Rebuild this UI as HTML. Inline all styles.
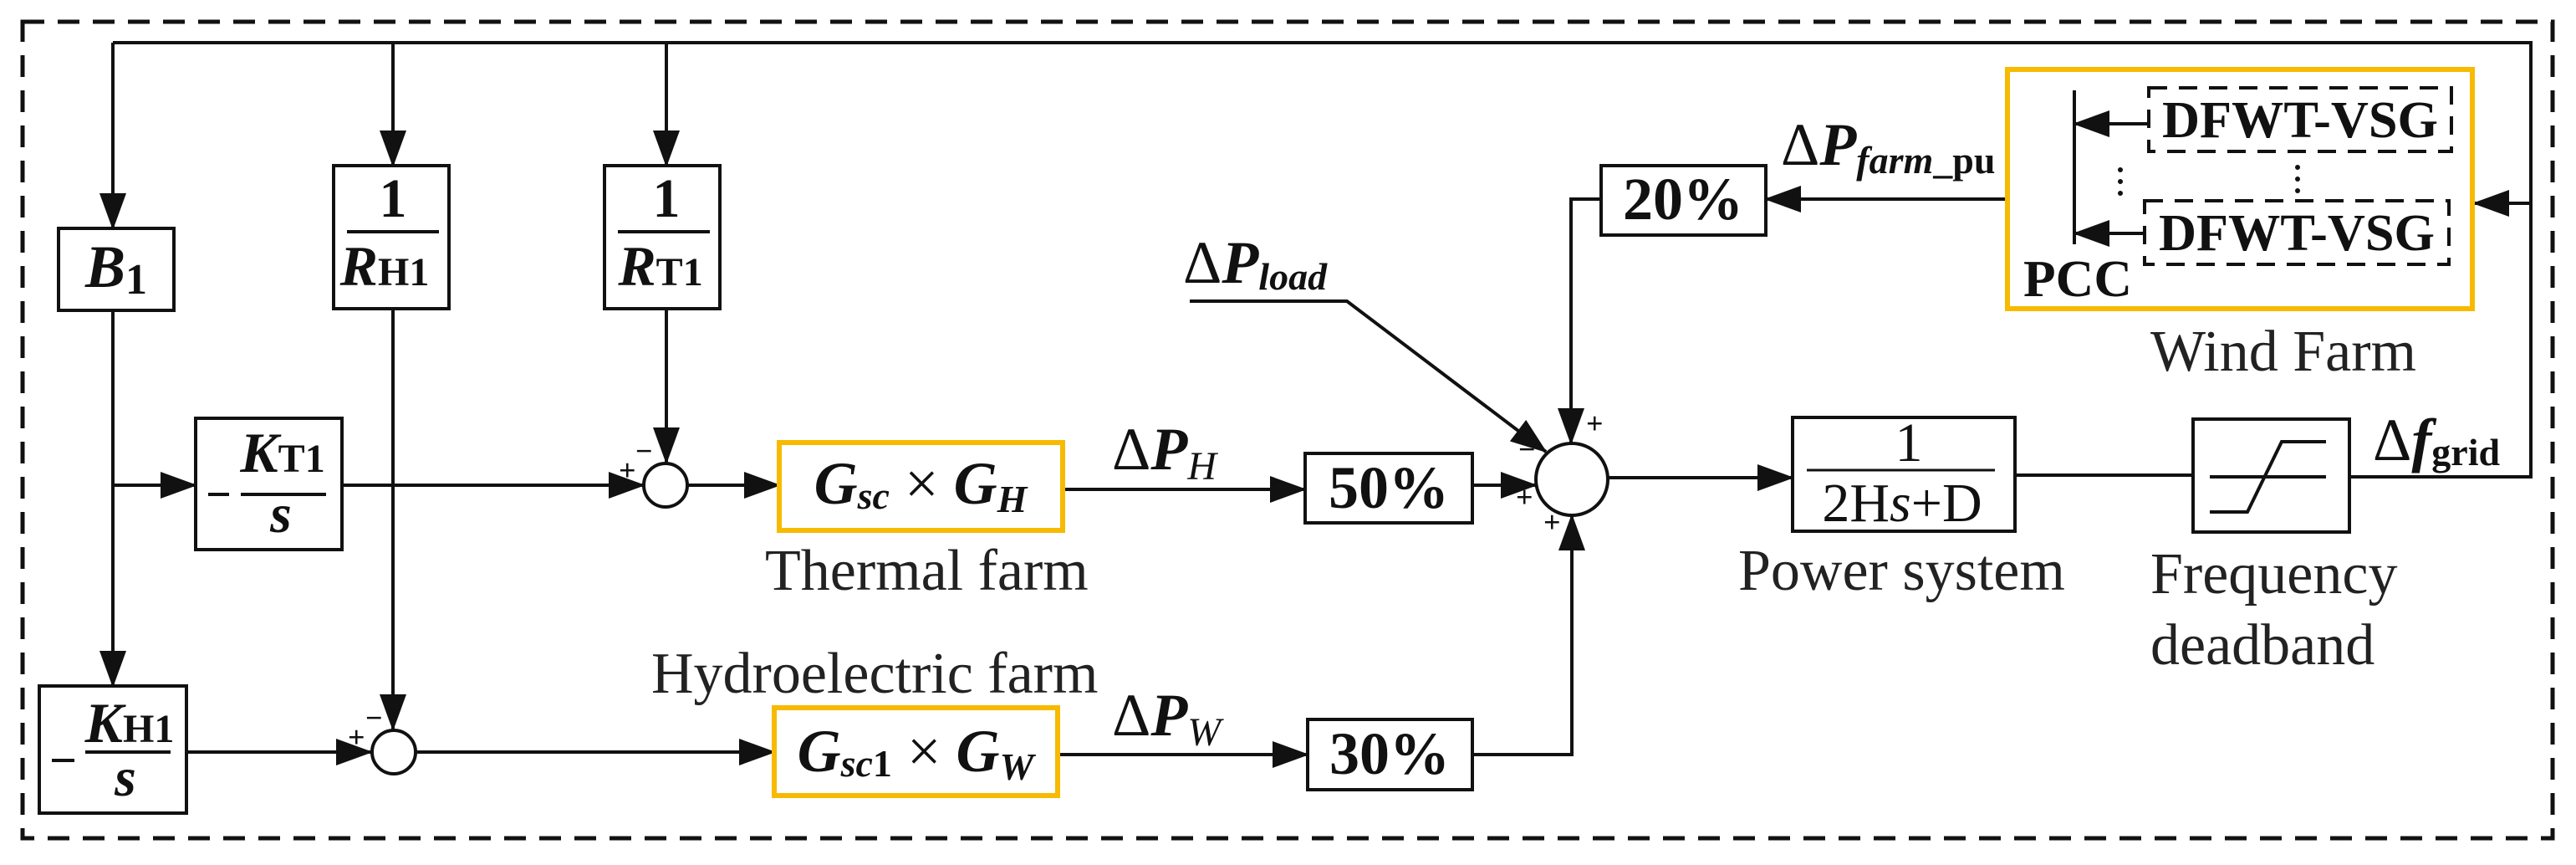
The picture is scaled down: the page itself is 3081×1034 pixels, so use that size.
<!DOCTYPE html>
<html><head><meta charset="utf-8"><style>
html,body{margin:0;padding:0;background:#fff;}
svg{display:block;}
text{font-family:"Liberation Serif",serif;fill:#111;}
.b{font-weight:bold;}
.bi{font-weight:bold;font-style:italic;}
.n{fill:#222;}
</style></head><body>
<svg width="3081" height="1034" viewBox="0 0 3081 1034" xmlns="http://www.w3.org/2000/svg">
<defs>
<marker id="a" markerUnits="userSpaceOnUse" markerWidth="44" markerHeight="32" refX="42" refY="16" orient="auto">
<path d="M0,0 L44,16 L0,32 Z" fill="#111"/>
</marker>
</defs>
<g fill="none" stroke="#111" stroke-width="4">
<!-- outer dashed -->
<rect x="27" y="26" width="3026" height="976" stroke-dasharray="26,16" stroke-width="5"/>
<!-- top feedback line -->
<polyline points="2810,570 3027,570 3027,51 135,51"/>
<line x1="135" y1="51" x2="135" y2="273" marker-end="url(#a)"/>
<line x1="470" y1="51" x2="470" y2="198" marker-end="url(#a)"/>
<line x1="797" y1="51" x2="797" y2="198" marker-end="url(#a)"/>
<line x1="3027" y1="243" x2="2959" y2="243" marker-end="url(#a)"/>
<!-- boxes -->
<rect x="70" y="273" width="138" height="98"/>
<rect x="399" y="198" width="138" height="171"/>
<rect x="723" y="198" width="138" height="171"/>
<rect x="234" y="500" width="175" height="157"/>
<rect x="47" y="820" width="176" height="152"/>
<rect x="1915" y="198" width="197" height="83"/>
<rect x="1561" y="542" width="200" height="83"/>
<rect x="1564" y="860" width="197" height="84"/>
<rect x="2144" y="499" width="266" height="136"/>
<rect x="2623" y="501" width="187" height="135"/>
<!-- fraction lines -->
<line x1="415" y1="277" x2="525" y2="277"/>
<line x1="739" y1="277" x2="849" y2="277"/>
<line x1="288" y1="591" x2="390" y2="591"/>
<line x1="249" y1="591" x2="274" y2="591"/>
<line x1="102" y1="899" x2="204" y2="899"/>
<line x1="62" y1="909" x2="89" y2="909"/>
<line x1="2161" y1="562" x2="2386" y2="562" stroke-width="3"/>
<!-- deadband icon -->
<line x1="2643" y1="570" x2="2782" y2="570"/>
<polyline points="2643,612 2688,612 2729,528 2782,528"/>
<!-- connections -->
<line x1="135" y1="371" x2="135" y2="820" marker-end="url(#a)"/>
<line x1="135" y1="580" x2="234" y2="580" marker-end="url(#a)"/>
<line x1="797" y1="369" x2="797" y2="553" marker-end="url(#a)"/>
<line x1="409" y1="580" x2="770" y2="580" marker-end="url(#a)"/>
<circle cx="796" cy="580" r="26"/>
<line x1="822" y1="580" x2="932" y2="580" marker-end="url(#a)"/>
<line x1="470" y1="369" x2="470" y2="872" marker-end="url(#a)"/>
<line x1="223" y1="899" x2="444" y2="899" marker-end="url(#a)"/>
<circle cx="471" cy="899" r="26"/>
<line x1="497" y1="899" x2="926" y2="899" marker-end="url(#a)"/>
<line x1="1271" y1="585" x2="1561" y2="585" marker-end="url(#a)"/>
<line x1="1265" y1="902" x2="1564" y2="902" marker-end="url(#a)"/>
<circle cx="1880" cy="573" r="43"/>
<line x1="1761" y1="580" x2="1837" y2="580" marker-end="url(#a)"/>
<polyline points="1761,902 1880,902 1880,616" marker-end="url(#a)"/>
<polyline points="1915,238 1879,238 1879,530" marker-end="url(#a)"/>
<polyline points="1423,360 1611,360 1849,540" marker-end="url(#a)"/>
<line x1="2401" y1="238" x2="2112" y2="238" marker-end="url(#a)"/>
<line x1="1923" y1="571" x2="2144" y2="571" marker-end="url(#a)"/>
<line x1="2410" y1="568" x2="2623" y2="568"/>
<!-- wind farm internals -->
<line x1="2481" y1="108" x2="2481" y2="292"/>
<line x1="2570" y1="148" x2="2481" y2="148" marker-end="url(#a)"/>
<line x1="2565" y1="279" x2="2481" y2="279" marker-end="url(#a)"/>
<rect x="2570" y="105" width="362" height="76" stroke-dasharray="22,14"/>
<rect x="2565" y="240" width="364" height="76" stroke-dasharray="22,14"/>
</g>
<!-- orange boxes -->
<g fill="none" stroke="#F7BA00" stroke-width="6">
<rect x="932" y="529" width="339" height="105"/>
<rect x="926" y="846" width="339" height="105"/>
<rect x="2401" y="83" width="556" height="286"/>
</g>
<!-- dots -->
<g fill="#111">
<circle cx="2536" cy="203" r="3"/><circle cx="2536" cy="217" r="3"/><circle cx="2536" cy="231" r="3"/>
<circle cx="2748" cy="200" r="3"/><circle cx="2748" cy="214" r="3"/><circle cx="2748" cy="228" r="3"/>
</g>
<!-- signs -->
<g class="b" font-size="36">
<text x="760" y="551">−</text><text x="740" y="574">+</text>
<text x="437" y="870">−</text><text x="416" y="893">+</text>
<text x="1816" y="549">−</text><text x="1897" y="518">+</text>
<text x="1813" y="606">+</text><text x="1846" y="636">+</text>
</g>
<!-- labels in boxes -->
<text class="bi" font-size="72" x="139" y="343" text-anchor="middle">B<tspan class="b" font-style="normal" font-size="52" dy="8">1</tspan></text>
<text class="b" font-size="66" x="470" y="259" text-anchor="middle">1</text>
<text class="bi" font-size="68" x="460" y="341" text-anchor="middle">R<tspan class="b" font-style="normal" font-size="48">H1</tspan></text>
<text class="b" font-size="66" x="797" y="259" text-anchor="middle">1</text>
<text class="bi" font-size="68" x="790" y="341" text-anchor="middle">R<tspan class="b" font-style="normal" font-size="48">T1</tspan></text>
<text class="bi" font-size="68" x="338" y="564" text-anchor="middle">K<tspan class="b" font-style="normal" font-size="48">T1</tspan></text>
<text class="bi" font-size="66" x="336" y="636" text-anchor="middle">s</text>
<text class="bi" font-size="68" x="155" y="887" text-anchor="middle">K<tspan class="b" font-style="normal" font-size="48">H1</tspan></text>
<text class="bi" font-size="66" x="150" y="951" text-anchor="middle">s</text>
<text class="bi" font-size="72" x="1101" y="602" text-anchor="middle">G<tspan font-size="46" dy="6">sc</tspan><tspan font-style="normal" font-weight="normal" dy="-6"> × </tspan>G<tspan font-size="46" dy="10">H</tspan></text>
<text class="bi" font-size="72" x="1095" y="922" text-anchor="middle">G<tspan font-size="46" dy="6">sc</tspan><tspan font-style="normal" font-size="46">1</tspan><tspan font-style="normal" font-weight="normal" dy="-6"> × </tspan>G<tspan font-size="46" dy="10">W</tspan></text>
<text class="b" font-size="72" x="1661" y="607" text-anchor="middle">50%</text>
<text class="b" font-size="72" x="1662" y="925" text-anchor="middle">30%</text>
<text class="b" font-size="72" x="2013" y="262" text-anchor="middle">20%</text>
<text font-size="66" x="2283" y="551" text-anchor="middle">1</text>
<text font-size="66" x="2275" y="623" text-anchor="middle">2H<tspan font-style="italic">s</tspan>+D</text>
<text class="b" font-size="62" x="2751" y="164" text-anchor="middle" textLength="330" lengthAdjust="spacingAndGlyphs">DFWT-VSG</text>
<text class="b" font-size="62" x="2747" y="299" text-anchor="middle" textLength="330" lengthAdjust="spacingAndGlyphs">DFWT-VSG</text>
<text class="b" font-size="62" x="2420" y="354" textLength="130" lengthAdjust="spacingAndGlyphs">PCC</text>
<!-- signal labels -->
<text font-size="72" x="1415" y="338">Δ<tspan class="bi">P</tspan><tspan class="bi" font-size="46" dy="8">load</tspan></text>
<text font-size="72" x="1330" y="561">Δ<tspan class="bi">P</tspan><tspan font-style="italic" font-size="48" dy="12">H</tspan></text>
<text font-size="72" x="1330" y="879">Δ<tspan class="bi">P</tspan><tspan font-style="italic" font-size="48" dy="12">W</tspan></text>
<text font-size="72" x="2130" y="197">Δ<tspan class="bi">P</tspan><tspan class="bi" font-size="46" dy="10">farm</tspan><tspan class="b" font-size="46">_pu</tspan></text>
<text font-size="72" x="2838" y="550">Δ<tspan class="bi">f</tspan><tspan class="b" font-size="46" dy="6">grid</tspan></text>
<!-- captions -->
<text class="n" font-size="70" x="915" y="705">Thermal farm</text>
<text class="n" font-size="70" x="779" y="828">Hydroelectric farm</text>
<text class="n" font-size="70" x="2079" y="705">Power system</text>
<text class="n" font-size="70" x="2572" y="443">Wind Farm</text>
<text class="n" font-size="70" x="2572" y="709">Frequency</text>
<text class="n" font-size="70" x="2572" y="794">deadband</text>
</svg>
</body></html>
